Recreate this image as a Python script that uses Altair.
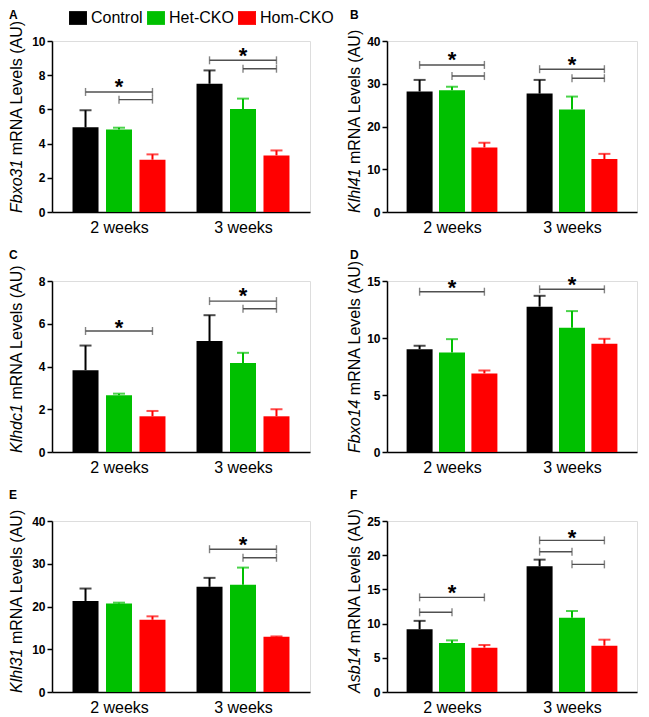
import altair as alt
import pandas as pd

groups = ["2 weeks", "3 weeks"]
genotypes = ["Control", "Het-CKO", "Hom-CKO"]
colors = ["#000000", "#00c000", "#ff0000"]

# Panel A - Fbxo31 (order: 2 weeks C/Het/Hom, 3 weeks C/Het/Hom)
fbxo31_mean = [4.95, 4.83, 3.06, 7.50, 6.02, 3.31]
fbxo31_sem = [1.00, 0.10, 0.31, 0.78, 0.61, 0.29]
fbxo31_brackets = [["2 weeks", "Control", "Hom-CKO", 7.02], ["2 weeks", "Het-CKO", "Hom-CKO", 6.57],
                   ["3 weeks", "Control", "Hom-CKO", 8.87], ["3 weeks", "Het-CKO", "Hom-CKO", 8.38]]
fbxo31_stars = [["2 weeks", 7.64], ["3 weeks", 9.45]]

# Panel B - Klhl41
klhl41_mean = [28.2, 28.5, 15.1, 27.7, 24.0, 12.4]
klhl41_sem = [2.7, 0.8, 1.1, 3.2, 3.0, 1.2]
klhl41_brackets = [["2 weeks", "Control", "Hom-CKO", 34.4], ["2 weeks", "Het-CKO", "Hom-CKO", 31.8],
                   ["3 weeks", "Control", "Hom-CKO", 33.4], ["3 weeks", "Het-CKO", "Hom-CKO", 31.3]]
klhl41_stars = [["2 weeks", 36.9], ["3 weeks", 35.7]]

# Panel C - Klhdc1
klhdc1_mean = [3.83, 2.66, 1.67, 5.19, 4.16, 1.67]
klhdc1_sem = [1.15, 0.07, 0.25, 1.21, 0.48, 0.33]
klhdc1_brackets = [["2 weeks", "Control", "Hom-CKO", 5.66],
                   ["3 weeks", "Control", "Hom-CKO", 7.06], ["3 weeks", "Het-CKO", "Hom-CKO", 6.70]]
klhdc1_stars = [["2 weeks", 6.10], ["3 weeks", 7.56]]

# Panel D - Fbxo14
fbxo14_mean = [9.02, 8.73, 6.89, 12.75, 10.90, 9.49]
fbxo14_sem = [0.30, 1.17, 0.26, 0.95, 1.46, 0.44]
fbxo14_brackets = [["2 weeks", "Control", "Hom-CKO", 14.06], ["3 weeks", "Control", "Hom-CKO", 14.27]]
fbxo14_stars = [["2 weeks", 14.9], ["3 weeks", 15.2]]

# Panel E - Klhl31
klhl31_mean = [21.3, 20.7, 16.9, 24.6, 25.1, 12.9]
klhl31_sem = [2.9, 0.2, 0.8, 2.1, 4.0, 0.1]
klhl31_brackets = [["3 weeks", "Control", "Hom-CKO", 33.4], ["3 weeks", "Het-CKO", "Hom-CKO", 31.4]]
klhl31_stars = [["3 weeks", 35.9]]

# Panel F - Asb14
asb14_mean = [9.16, 7.16, 6.48, 18.37, 10.87, 6.77]
asb14_sem = [1.24, 0.39, 0.39, 0.98, 0.97, 0.88]
asb14_brackets = [["2 weeks", "Control", "Hom-CKO", 13.84], ["2 weeks", "Control", "Het-CKO", 11.65],
                  ["3 weeks", "Control", "Hom-CKO", 22.17], ["3 weeks", "Control", "Het-CKO", 20.5],
                  ["3 weeks", "Het-CKO", "Hom-CKO", 18.66]]
asb14_stars = [["2 weeks", 15.35], ["3 weeks", 23.4]]

panels = [
    ("A", "Fbxo31", 10, 2, fbxo31_mean, fbxo31_sem, fbxo31_brackets, fbxo31_stars),
    ("B", "Klhl41", 40, 10, klhl41_mean, klhl41_sem, klhl41_brackets, klhl41_stars),
    ("C", "Klhdc1", 8, 2, klhdc1_mean, klhdc1_sem, klhdc1_brackets, klhdc1_stars),
    ("D", "Fbxo14", 15, 5, fbxo14_mean, fbxo14_sem, fbxo14_brackets, fbxo14_stars),
    ("E", "Klhl31", 40, 10, klhl31_mean, klhl31_sem, klhl31_brackets, klhl31_stars),
    ("F", "Asb14", 25, 5, asb14_mean, asb14_sem, asb14_brackets, asb14_stars),
]

FONT = "Liberation Sans"
DODGE = 0.27
H = 171
CHAR_W = {'F': 611, 'b': 556, 'x': 500, 'o': 556, '3': 556, '1': 556, '4': 556, 'K': 667,
          'l': 222, 'h': 556, 'd': 556, 'c': 500, 'A': 667, 's': 500}
TITLE_FS = 16


def pos(group, geno):
    return groups.index(group) + (genotypes.index(geno) - 1) * DODGE


label_expr = " : ".join(
    f"datum.value == {i} ? '{g}'" for i, g in enumerate(groups)
) + " : ''"


def make_panel(letter, gene, ymax, step, mean, sem, brackets, stars, col, width):
    rows = []
    for gi, g in enumerate(groups):
        for ki, k in enumerate(genotypes):
            i = gi * 3 + ki
            rows.append({"group": g, "genotype": k, "mean": mean[i],
                         "top": mean[i] + sem[i], "pos": pos(g, k)})
    df = pd.DataFrame(rows)
    br = pd.DataFrame([{"x1": pos(g, a), "x2": pos(g, b), "y": y} for g, a, b, y in brackets])
    caps = pd.DataFrame([{"x": pos(g, a), "y": y} for g, a, b, y in brackets] +
                        [{"x": pos(g, b), "y": y} for g, a, b, y in brackets])
    st = pd.DataFrame([{"x": float(groups.index(g)), "y": y, "t": "*"} for g, y in stars])

    xs = alt.Scale(domain=[-0.5, 1.5], nice=False, zero=False)
    ys = alt.Scale(domain=[0, ymax], nice=False)
    xaxis = alt.Axis(values=[0, 1], labelExpr=label_expr, ticks=False, grid=False, title=None,
                     labelFontSize=16, labelFont=FONT, labelColor="black", labelPadding=7,
                     domainColor="black", domainWidth=1.5, labelFlush=False)
    yaxis = alt.Axis(values=list(range(0, ymax + 1, step)), tickCount=50, format="d",
                     grid=False, title=None,
                     labelFontSize=12, labelFontWeight="bold", labelFont=FONT, labelColor="black",
                     domainColor="black", domainWidth=1.5, tickColor="black", tickWidth=1.5,
                     tickSize=5, labelPadding=2, labelOverlap=False)

    if letter == "A":
        legend = alt.Legend(title=None, orient="none", legendX=18, legendY=-31, direction="horizontal",
                            symbolType="M-1.3,-1H1.3V1H-1.3Z", symbolSize=190, symbolStrokeWidth=0,
                            labelFontSize=16, labelFont=FONT, labelColor="black", labelOffset=5,
                            columnPadding=4, symbolOpacity=1, padding=0, offset=0)
    else:
        legend = None
    cscale = alt.Scale(domain=genotypes, range=colors)

    bars = alt.Chart(df).mark_bar(size=26, orient="vertical").encode(
        x=alt.X("pos:Q", scale=xs, axis=xaxis),
        y=alt.Y("mean:Q", scale=ys, axis=yaxis),
        color=alt.Color("genotype:N", scale=cscale, legend=legend),
    )
    err = alt.Chart(df).mark_rule(strokeWidth=2).encode(
        x="pos:Q", y="mean:Q", y2="top:Q",
        color=alt.Color("genotype:N", scale=cscale, legend=None),
    )
    errcap = alt.Chart(df).mark_tick(orient="horizontal", size=12, thickness=2).encode(
        x="pos:Q", y="top:Q",
        color=alt.Color("genotype:N", scale=cscale, legend=None),
    )
    brl = alt.Chart(br).mark_rule(strokeWidth=1.4, color="#505050").encode(
        x="x1:Q", x2="x2:Q", y="y:Q")
    brc = alt.Chart(caps).mark_tick(orient="vertical", size=8, thickness=1.4, color="#505050").encode(
        x="x:Q", y="y:Q")
    star = alt.Chart(st).mark_text(fontSize=22, fontWeight="bold", font=FONT, color="black",
                                   baseline="alphabetic", dy=13).encode(
        x="x:Q", y="y:Q", text="t:N")

    one = pd.DataFrame({"k": [0]})
    letter_x = -43 if col == 0 else -37
    title_x = -35 if col == 0 else -32
    gene_w = sum(CHAR_W.get(c, 556) for c in gene) / 1000 * TITLE_FS
    lt = alt.Chart(one).mark_text(fontSize=12, fontWeight="bold", font=FONT, color="black",
                                  align="left", baseline="top").encode(
        x=alt.value(letter_x), y=alt.value(-31), text=alt.value(letter))
    t1 = alt.Chart(one).mark_text(fontSize=TITLE_FS, fontStyle="italic", font=FONT, color="black",
                                  angle=270, align="left", baseline="middle").encode(
        x=alt.value(title_x), y=alt.value(H + 1), text=alt.value(gene))
    t2 = alt.Chart(one).mark_text(fontSize=TITLE_FS, font=FONT, color="black",
                                  angle=270, align="left", baseline="middle").encode(
        x=alt.value(title_x), y=alt.value(H + 1 - gene_w - 4.5), text=alt.value("mRNA Levels (AU)"))

    return alt.layer(bars, err, errcap, brl, brc, star, lt, t1, t2).properties(width=width, height=H)


left = [make_panel(*p, col=0, width=258) for p in panels[0::2]]
right = [make_panel(*p, col=1, width=250) for p in panels[1::2]]

chart = alt.hconcat(
    alt.vconcat(*left, spacing=12),
    alt.vconcat(*right, spacing=12),
    spacing=35,
).properties(padding=0).configure_view(stroke=None).configure(background="white")

chart.save("out.html", embed_options={"renderer": "svg", "actions": False})
